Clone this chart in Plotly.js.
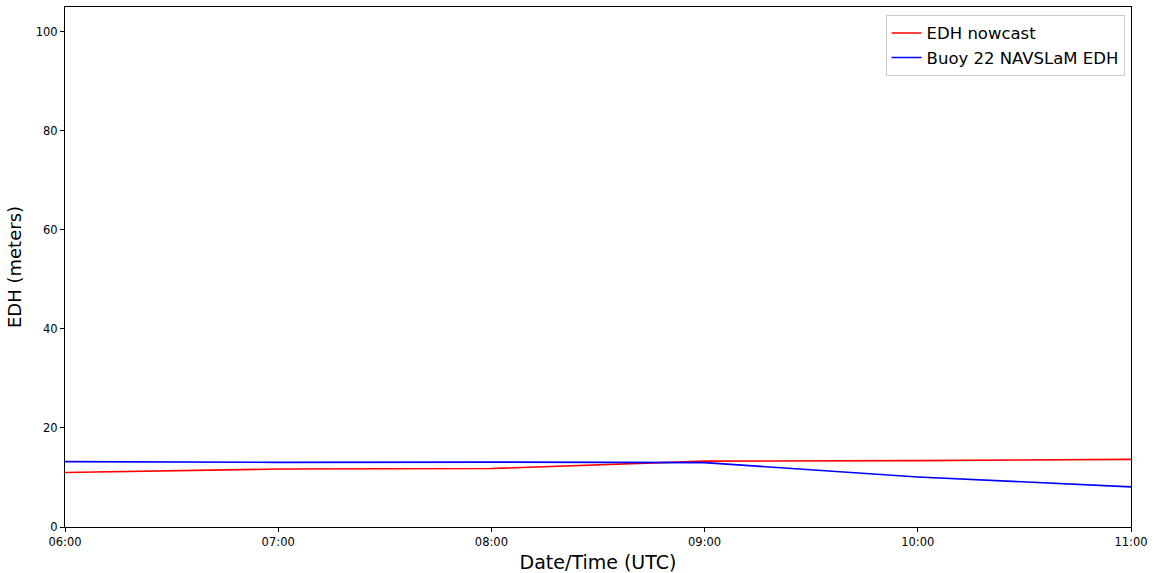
<!DOCTYPE html>
<html>
<head>
<meta charset="utf-8">
<script src="https://cdn.plot.ly/plotly-3.0.1.min.js"></script>
<style>html,body{margin:0;padding:0;background:#fff;}#chart{width:1154px;height:573px;}</style>
</head>
<body>
<div id="chart"></div>
<script>
const times = ["2020-01-01 06:00","2020-01-01 07:00","2020-01-01 08:00","2020-01-01 09:00","2020-01-01 10:00","2020-01-01 11:00"];
const nowcast = [11.0, 11.7, 11.8, 13.3, 13.4, 13.65];
const buoy = [13.2, 13.05, 13.1, 13.0, 10.1, 8.1];
const tickLabels = ["06:00","07:00","08:00","09:00","10:00","11:00"];

const traces = [
  {x: times, y: nowcast, type: "scatter", mode: "lines", name: "EDH nowcast", line: {color: "#ff0000", width: 1.6}},
  {x: times, y: buoy, type: "scatter", mode: "lines", name: "Buoy 22 NAVSLaM EDH", line: {color: "#0000ff", width: 1.6}}
];
const layout = {
  width: 1154, height: 573,
  margin: {l: 65, r: 23, t: 7, b: 46},
  paper_bgcolor: "#fff", plot_bgcolor: "#fff",
  font: {family: "DejaVu Sans", color: "#000"},
  showlegend: true,
  legend: {x: 0.994, y: 0.985, xanchor: "right", yanchor: "top", bgcolor: "rgba(255,255,255,0.8)", bordercolor: "#cccccc", borderwidth: 1, font: {size: 16.5}, tracegroupgap: 0},
  xaxis: {
    type: "date", range: [times[0], times[times.length-1]],
    tickvals: times, ticktext: tickLabels,
    showgrid: false, zeroline: false, showline: true, mirror: true, linecolor: "#000", linewidth: 1,
    ticks: "outside", ticklen: 4, tickcolor: "#000", tickfont: {size: 11.5},
    title: {text: "Date/Time (UTC)", font: {size: 19}, standoff: 7}
  },
  yaxis: {
    range: [0, 105], tickvals: [0,20,40,60,80,100],
    showgrid: false, zeroline: false, showline: true, mirror: true, linecolor: "#000", linewidth: 1,
    ticks: "outside", ticklen: 4, tickcolor: "#000", tickfont: {size: 11.5},
    title: {text: "EDH (meters)", font: {size: 18}, standoff: 9}
  }
};
Plotly.newPlot("chart", traces, layout, {displayModeBar: false, staticPlot: true});
</script>
</body>
</html>
